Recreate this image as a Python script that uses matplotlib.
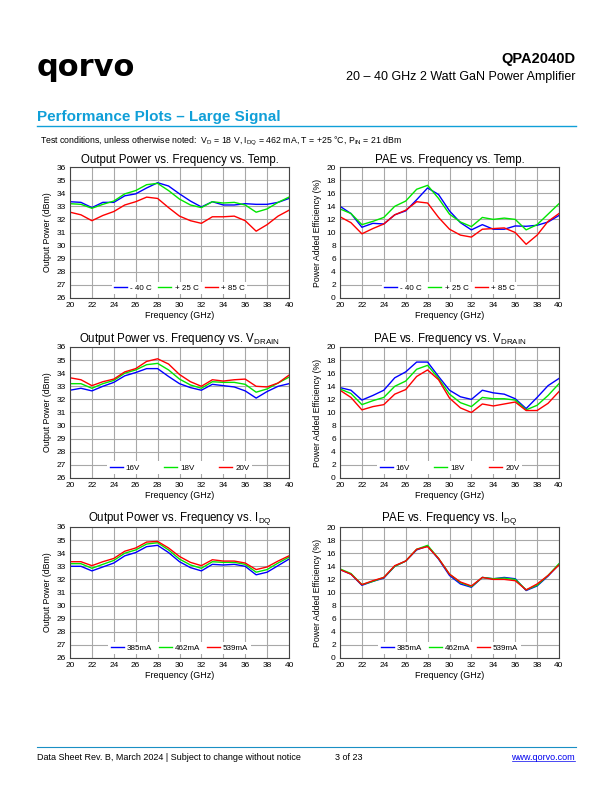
import numpy as np
import matplotlib.pyplot as plt

plt.rcParams['font.family'] = ['Liberation Sans', 'DejaVu Sans']
plt.rcParams['mathtext.fontset'] = 'custom'
plt.rcParams['mathtext.rm'] = 'Liberation Sans'

freq = np.arange(20, 41)

# output power vs temp (dBm)
pout_m40 = [33.35, 33.3, 32.9, 33.3, 33.3, 33.8, 33.95, 34.4, 34.8, 34.55, 33.95, 33.4, 32.95, 33.35, 33.1, 33.1, 33.2, 33.15, 33.15, 33.3, 33.6]
pout_25 = [33.2, 33.15, 32.85, 33.15, 33.4, 33.95, 34.2, 34.65, 34.75, 34.2, 33.55, 33.1, 32.9, 33.35, 33.25, 33.3, 33.1, 32.55, 32.8, 33.3, 33.7]
pout_85 = [32.55, 32.35, 31.9, 32.3, 32.6, 33.1, 33.35, 33.7, 33.6, 32.9, 32.25, 31.9, 31.7, 32.2, 32.2, 32.25, 31.9, 31.1, 31.6, 32.25, 32.7]

# PAE vs temp (%)
pae_m40 = [14.0, 12.9, 10.8, 11.4, 11.3, 12.7, 13.3, 15.0, 16.8, 15.8, 13.3, 11.5, 10.4, 11.2, 10.5, 10.5, 11.0, 10.95, 11.1, 11.6, 12.6]
pae_25 = [13.6, 12.9, 11.2, 11.7, 12.3, 14.0, 14.8, 16.6, 17.2, 15.2, 12.8, 11.6, 10.9, 12.3, 12.0, 12.2, 12.0, 10.4, 11.2, 12.8, 14.4]
pae_85 = [12.4, 11.5, 9.8, 10.6, 11.3, 12.7, 13.4, 14.7, 14.5, 12.3, 10.5, 9.6, 9.3, 10.5, 10.6, 10.7, 10.0, 8.2, 9.6, 11.7, 12.9]

# output power vs drain voltage
pout_16v = [32.7, 32.85, 32.65, 33.0, 33.3, 33.8, 34.05, 34.35, 34.35, 33.75, 33.2, 32.9, 32.7, 33.15, 33.05, 32.95, 32.65, 32.1, 32.6, 33.0, 33.2]
pout_18v = [33.2, 33.2, 32.85, 33.2, 33.45, 34.0, 34.25, 34.65, 34.75, 34.25, 33.55, 33.1, 32.85, 33.35, 33.3, 33.3, 33.15, 32.55, 32.8, 33.25, 33.7]
pout_20v = [33.65, 33.5, 33.05, 33.35, 33.55, 34.1, 34.35, 34.9, 35.1, 34.7, 33.9, 33.35, 33.0, 33.5, 33.4, 33.5, 33.55, 33.0, 32.95, 33.25, 33.85]

# PAE vs drain voltage
pae_16v = [13.8, 13.4, 11.9, 12.6, 13.4, 15.3, 16.2, 17.7, 17.7, 15.5, 13.4, 12.4, 12.0, 13.4, 13.0, 12.8, 12.1, 10.6, 12.3, 14.1, 15.2]
pae_18v = [13.6, 12.9, 11.2, 11.8, 12.3, 14.0, 14.8, 16.6, 17.2, 15.2, 12.8, 11.5, 10.9, 12.3, 12.1, 12.1, 11.9, 10.4, 11.1, 12.6, 14.4]
pae_20v = [13.4, 12.3, 10.4, 10.9, 11.2, 12.8, 13.5, 15.5, 16.5, 15.0, 12.2, 10.7, 10.0, 11.3, 11.0, 11.3, 11.6, 10.3, 10.3, 11.4, 13.2]

# output power vs quiescent current
pout_385 = [33.0, 33.0, 32.65, 32.95, 33.25, 33.8, 34.05, 34.5, 34.6, 34.05, 33.35, 32.9, 32.65, 33.15, 33.1, 33.15, 33.0, 32.35, 32.55, 33.05, 33.55]
pout_462 = [33.2, 33.2, 32.85, 33.15, 33.45, 34.0, 34.25, 34.7, 34.8, 34.25, 33.55, 33.1, 32.85, 33.35, 33.3, 33.3, 33.15, 32.55, 32.75, 33.25, 33.7]
pout_539 = [33.35, 33.35, 33.05, 33.35, 33.6, 34.15, 34.4, 34.85, 34.9, 34.4, 33.75, 33.3, 33.05, 33.5, 33.4, 33.4, 33.25, 32.75, 32.95, 33.4, 33.8]

# PAE vs quiescent current
pae_385 = [13.5, 12.8, 11.1, 11.7, 12.2, 14.0, 14.8, 16.5, 17.1, 15.1, 12.6, 11.3, 10.8, 12.3, 12.1, 12.3, 12.1, 10.3, 11.0, 12.5, 14.3]
pae_462 = [13.6, 12.9, 11.2, 11.7, 12.3, 14.0, 14.8, 16.6, 17.2, 15.2, 12.8, 11.5, 10.9, 12.3, 12.1, 12.2, 12.0, 10.4, 11.1, 12.6, 14.4]
pae_539 = [13.5, 12.8, 11.2, 11.8, 12.3, 14.1, 14.8, 16.6, 17.0, 15.2, 12.8, 11.6, 11.0, 12.3, 12.0, 12.0, 11.8, 10.4, 11.3, 12.6, 14.2]

temp_labels = ['- 40 C', '+ 25 C', '+ 85 C']
vd_labels = ['16V', '18V', '20V']
idq_labels = ['385mA', '462mA', '539mA']
colors = ['#0000ff', '#00e600', '#ff0000']

fig = plt.figure(figsize=(6.12, 7.92), dpi=100)

# header
fig.text(37/612, 1-67/792, 'qorvo', fontsize=22, fontweight='bold', family='DejaVu Sans', va='center', ha='left', color='black')
fig.text(575/612, 1-59/792, 'QPA2040D', fontsize=10.5, fontweight='bold', ha='right', va='center')
fig.text(575/612, 1-77/792, '20 – 40 GHz 2 Watt GaN Power Amplifier', fontsize=9, ha='right', va='center')
fig.text(37/612, 1-117/792, 'Performance Plots – Large Signal', fontsize=11, fontweight='bold', color='#109fd8', ha='left', va='center')
fig.add_artist(plt.Line2D([37/612, 576/612], [1-126/792, 1-126/792], color='#109fd8', lw=1.0))
fig.text(40/612, 1-141/792, r'Test conditions, unless otherwise noted:  V$_\mathrm{D}$ = 18 V, I$_\mathrm{DQ}$ = 462 mA, T = +25 °C, P$_\mathrm{IN}$ = 21 dBm',
         fontsize=6.3, ha='left', va='center')

# footer
fig.add_artist(plt.Line2D([37/612, 576/612], [1-747/792, 1-747/792], color='#1a8fc4', lw=0.8))
fig.text(37/612, 1-757/792, 'Data Sheet Rev. B, March 2024 | Subject to change without notice', fontsize=6.5, ha='left', va='center')
fig.text(335/612, 1-757/792, '3 of 23', fontsize=6.5, ha='left', va='center')
fig.text(575/612, 1-757/792, 'www.qorvo.com', fontsize=6.5, ha='right', va='center', color='#0000ee')
fig.add_artist(plt.Line2D([512/612, 575/612], [1-761/792, 1-761/792], color='#0000ee', lw=0.5))

plots = [
    ('Output Power vs. Frequency vs. Temp.', [pout_m40, pout_25, pout_85], temp_labels, 'pout', 0, 0),
    ('PAE vs. Frequency vs. Temp.', [pae_m40, pae_25, pae_85], temp_labels, 'pae', 0, 1),
    (r'Output Power vs. Frequency vs. V$_\mathrm{DRAIN}$', [pout_16v, pout_18v, pout_20v], vd_labels, 'pout', 1, 0),
    (r'PAE vs. Frequency vs. V$_\mathrm{DRAIN}$', [pae_16v, pae_18v, pae_20v], vd_labels, 'pae', 1, 1),
    (r'Output Power vs. Frequency vs. I$_\mathrm{DQ}$', [pout_385, pout_462, pout_539], idq_labels, 'pout', 2, 0),
    (r'PAE vs. Frequency vs. I$_\mathrm{DQ}$', [pae_385, pae_462, pae_539], idq_labels, 'pae', 2, 1),
]

lefts = [70, 340]
bottoms = [298, 478, 658]
for title, series, labels, kind, r, c in plots:
    ax = fig.add_axes([lefts[c]/612, 1-bottoms[r]/792, 219/612, 131/792])
    for s, lab, col in zip(series, labels, colors):
        ax.plot(freq, s, color=col, lw=1.0, label=lab)
    ax.set_xlim(20, 40)
    ax.set_xticks(np.arange(20, 41, 2))
    if kind == 'pout':
        ax.set_ylim(26, 36)
        ax.set_yticks(np.arange(26, 37, 1))
        ax.set_ylabel('Output Power (dBm)', fontsize=6.3, labelpad=3)
    else:
        ax.set_ylim(0, 20)
        ax.set_yticks(np.arange(0, 21, 2))
        ax.set_ylabel('Power Added Efficiency (%)', fontsize=6.3, labelpad=3)
    ax.set_xlabel('Frequency (GHz)', fontsize=6.5, labelpad=1)
    ax.set_title(title, fontsize=8.3, pad=3)
    ax.grid(True, color='#a8a8a8', lw=0.8)
    ax.set_axisbelow(True)
    ax.tick_params(length=0, labelsize=6, pad=3)
    for sp in ax.spines.values():
        sp.set_color('#444444')
        sp.set_linewidth(0.8)
    colsp = 3.0 if labels is vd_labels else 0.8
    leg = ax.legend(loc='lower center', ncol=3, fontsize=5.8, frameon=True, fancybox=False,
                    edgecolor='none', facecolor='white', framealpha=1, handlelength=1.6,
                    handletextpad=0.4, columnspacing=colsp, borderpad=0.3,
                    bbox_to_anchor=(0.5, 0.0))

fig.savefig('out.png', dpi=100)
